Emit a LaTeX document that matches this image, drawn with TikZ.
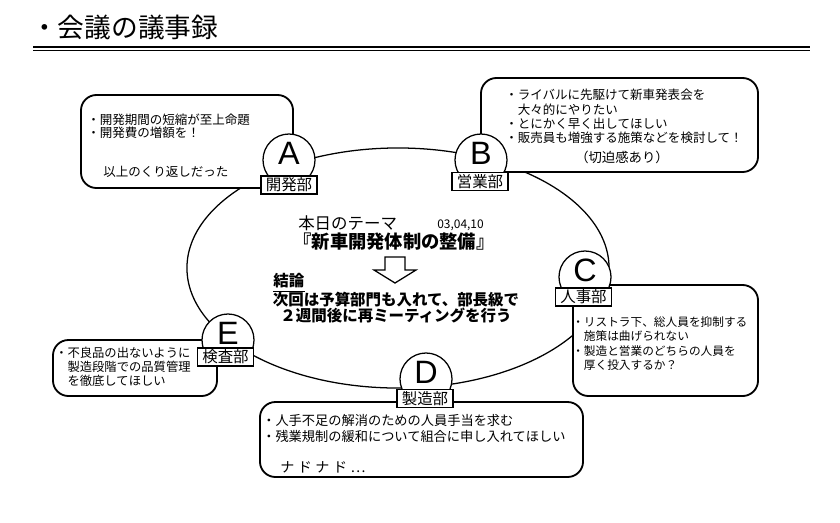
\documentclass[tikz,border=0pt]{standalone}
\usepackage{fontspec}
\setmainfont{Noto Sans CJK JP}
\newfontfamily\letterfont{Liberation Sans}
\usetikzlibrary{positioning,shapes.geometric}

\begin{document}
\begin{tikzpicture}[x=0.025cm, y=-0.025cm,
    memobox/.style={draw, line width=1.3pt, rounded corners=11pt, fill=white, inner sep=0pt},
    memotext/.style={anchor=west, align=left, inner sep=0pt, font=\fontsize{8.9pt}{10.2pt}\selectfont},
    deptcircle/.style={circle, draw, line width=0.9pt, fill=white, minimum size=1.3cm, inner sep=0pt,
      font=\letterfont\fontsize{23pt}{23pt}\selectfont},
    deptlabel/.style={draw, line width=0.9pt, fill=white, inner xsep=3.5pt, inner ysep=0.6pt,
      text height=9.8pt, text depth=1.8pt, font=\fontsize{11pt}{11pt}\selectfont}]
    \useasboundingbox (0,0) rectangle (840,522);
    \node[anchor=west, inner sep=0pt, font=\fontsize{19pt}{21pt}\selectfont] (title) at (31,27) {・会議の議事録};
    \draw[line width=0.9pt] (33,47) -- (810,47);
    \draw[line width=0.9pt] (33,50.5) -- (810,50.5);

    \node[draw, ellipse, line width=0.9pt, minimum width=10.55cm, minimum height=6cm, inner sep=0pt] (ring) at (398,268) {};

    \node[memobox, minimum width=5.3cm, minimum height=2.325cm] (memoA) at (187,141.5) {};
    \node[memobox, minimum width=6.925cm, minimum height=2.35cm] (memoB) at (619.5,125) {};
    \node[memobox, minimum width=4.625cm, minimum height=2.775cm] (memoC) at (665.5,340.5) {};
    \node[memobox, minimum width=8.075cm, minimum height=1.875cm] (memoD) at (421.5,439.5) {};
    \node[memobox, minimum width=4.1cm, minimum height=1.4cm] (memoE) at (135,368) {};

    \node[memotext, font=\fontsize{8.9pt}{9.3pt}\selectfont] (textA) at (87,126.5)
      {・開発期間の短縮が至上命題\\・開発費の増額を！};
    \node[memotext] (textA2) at (103,172) {以上のくり返しだった};
    \node[memotext] (textB) at (505,116.5)
      {・ライバルに先駆けて新車発表会を\\\hspace{1em}大々的にやりたい\\・とにかく早く出してほしい\\・販売員も増強する施策などを検討して！};
    \node[memotext, anchor=center, font=\fontsize{9.5pt}{10pt}\selectfont] (textB2) at (622,157) {（切迫感あり）};
    \node[memotext, font=\fontsize{8.3pt}{10.2pt}\selectfont] (textC) at (572,343.5)
      {・リストラ下、総人員を抑制する\\\hspace{1em}施策は曲げられない\\・製造と営業のどちらの人員を\\\hspace{1em}厚く投入するか？};
    \node[memotext, font=\fontsize{9.4pt}{12pt}\selectfont] (textD) at (262,428.5)
      {・人手不足の解消のための人員手当を求む\\・残業規制の緩和について組合に申し入れてほしい};
    \node[memotext, font=\fontsize{10pt}{10pt}\selectfont] (textD2) at (280,467) {ナ\kern2.5pt ド\kern2.5pt ナ\kern2.5pt ド\kern2.5pt …};
    \node[memotext, font=\fontsize{8.75pt}{10pt}\selectfont] (textE) at (55,367)
      {・不良品の出ないように\\\hspace{1em}製造段階での品質管理\\\hspace{1em}を徹底してほしい};

    \node[anchor=west, inner sep=0pt, font=\fontsize{11.7pt}{12pt}\selectfont] (theme) at (298,223) {本日のテーマ};
    \node[anchor=base west, inner sep=0pt, font=\fontsize{8.5pt}{9pt}\selectfont] (date) at (437,228.5) {03,04,10};
    \node[inner sep=0pt, font=\bfseries\fontsize{13pt}{14pt}\selectfont] (subject) at (394,242) {『新車開発体制の整備』};
    \draw[line width=0.9pt, fill=white] (385,257) -- (405,257) -- (405,270) -- (416,270) -- (395,283)
      -- (374,270) -- (385,270) -- cycle;
    \node[anchor=west, inner sep=0pt, font=\bfseries\fontsize{11pt}{12pt}\selectfont] (conclusion) at (273,281) {結論};
    \draw[line width=0.9pt] ([yshift=-1.8pt]conclusion.south west) -- ([yshift=-1.8pt]conclusion.south east);
    \node[inner sep=0pt, align=center, font=\bfseries\fontsize{11pt}{11.4pt}\selectfont] (decision) at (396,308)
      {次回は予算部門も入れて、部長級で\\２週間後に再ミーティングを行う};

    \foreach \tag/\dept/\cx/\cy/\lx/\ly in {A/開発部/289/160/289/185, B/営業部/481/160/480/181.5,
      C/人事部/585/277/583.5/297, D/製造部/426/379/425/398.5, E/検査部/228/340/225.5/357}{
      \node[deptcircle] (circle\tag) at (\cx,\cy) {\raisebox{10pt}{\tag}};
      \node[deptlabel] (label\tag) at (\lx,\ly) {\dept};
    }
\end{tikzpicture}
\end{document}
